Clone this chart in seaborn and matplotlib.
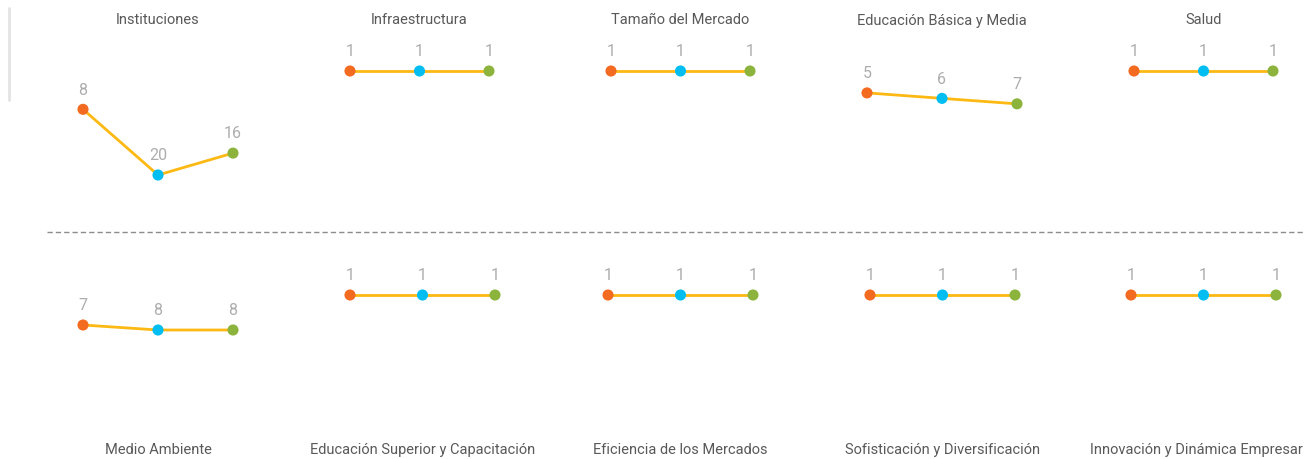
import matplotlib
matplotlib.use("Agg")
import matplotlib.pyplot as plt
import seaborn as sns
import pandas as pd

# ---- data ----
periods = ["P1", "P2", "P3"]
top_categories = ["Instituciones", "Infraestructura", "Tamaño del Mercado",
                  "Educación Básica y Media", "Salud"]
top_ranks = [[8, 20, 16], [1, 1, 1], [1, 1, 1], [5, 6, 7], [1, 1, 1]]
bottom_categories = ["Medio Ambiente", "Educación Superior y Capacitación",
                     "Eficiencia de los Mercados", "Sofisticación y Diversificación",
                     "Innovación y Dinámica Empresarial"]
bottom_ranks = [[7, 8, 8], [1, 1, 1], [1, 1, 1], [1, 1, 1], [1, 1, 1]]

point_colors = ["#F26B21", "#00BDF2", "#8CB43C"]
line_color = "#FDB913"

sns.set_theme(style="white")
plt.rcParams["font.family"] = ["Roboto", "DejaVu Sans"]

W, H = 1304, 459
fig = plt.figure(figsize=(W / 100, H / 100), dpi=100)

# layout in pixels: (center x, half spacing)
top_layout = [(158, 75), (419.5, 69.5), (680.5, 69.5), (942, 75), (1203.5, 69.5)]
bot_layout = [(158, 75), (422.5, 72.5), (680.5, 72.5), (942.5, 72.5), (1203.5, 72.5)]


def panel(cx, hs, y_top, y_bot, ymax, ranks):
    ax = fig.add_axes([(cx - hs) / W, 1 - y_bot / H, 2 * hs / W, (y_bot - y_top) / H])
    df = pd.DataFrame({"x": [0, 1, 2], "rank": ranks, "period": periods})
    sns.lineplot(data=df, x="x", y="rank", color=line_color, linewidth=2.0, ax=ax,
                 clip_on=False)
    sns.scatterplot(data=df, x="x", y="rank", hue="period", palette=point_colors,
                    s=64, edgecolor="none", legend=False, ax=ax, clip_on=False, zorder=3)
    for xi, r in zip(df["x"], df["rank"]):
        ax.annotate(str(r), (xi, r), xytext=(0, 13.8), textcoords="offset points",
                    ha="center", va="center", fontsize=11.5, color="#ADADAD")
    ax.set_xlim(0, 2)
    ax.set_ylim(ymax, 1)
    ax.axis("off")
    return ax


for (cx, hs), name, r in zip(top_layout, top_categories, top_ranks):
    panel(cx, hs, 71, 175, 20, r)
    fig.text(cx / W, 1 - 20.5 / H, name, ha="center", va="center", fontsize=10.5,
             color="#595959")

for (cx, hs), name, r in zip(bot_layout, bottom_categories, bottom_ranks):
    panel(cx, hs, 295, 330, 8, r)
    fig.text(cx / W, 1 - 450 / H, name, ha="center", va="center", fontsize=10.5,
             color="#595959")

# separator dashed line
fig.add_artist(plt.Line2D([47 / W, 1.0], [1 - 232 / H, 1 - 232 / H],
                          color="#8C8C8C", linewidth=1.0, linestyle=(0, (3.8, 2.2))))
# left vertical faint bar
fig.add_artist(plt.Line2D([8.5 / W, 8.5 / W], [1 - 8 / H, 1 - 100 / H],
                          color="#E3E3E3", linewidth=2.0))

fig.savefig("out.png", dpi=100)
